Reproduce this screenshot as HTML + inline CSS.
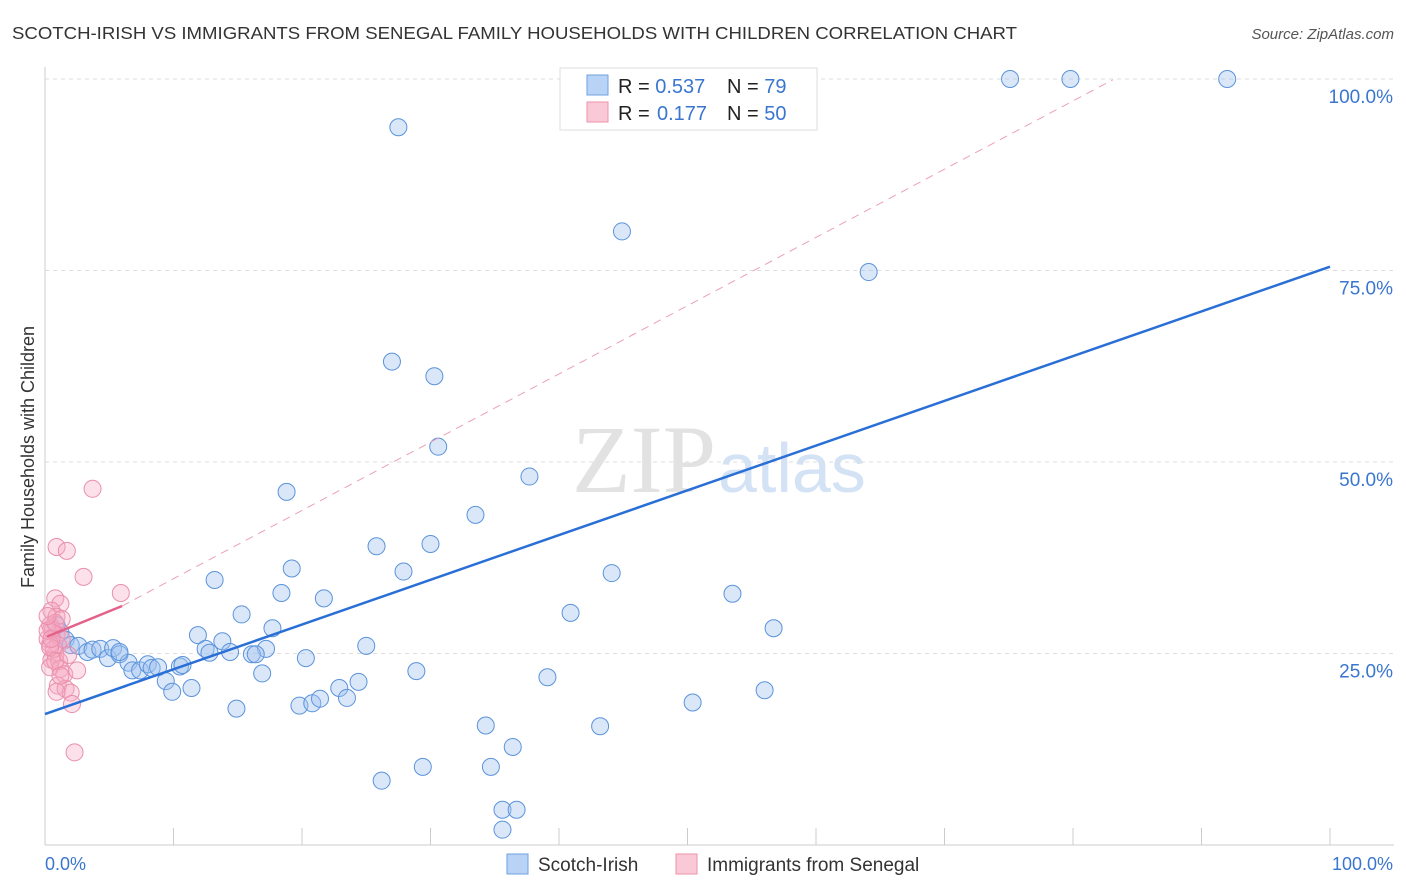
<!DOCTYPE html>
<html><head><meta charset="utf-8"><style>
body{margin:0;background:#fff;font-family:"Liberation Sans",sans-serif;}
#wrap{position:relative;width:1406px;height:892px;overflow:hidden;}
</style></head><body>
<div id="wrap">
<svg id="svg" width="1406" height="892" xmlns="http://www.w3.org/2000/svg">
<text x="12" y="39" font-size="17.5" fill="#333" textLength="1005" lengthAdjust="spacingAndGlyphs">SCOTCH-IRISH VS IMMIGRANTS FROM SENEGAL FAMILY HOUSEHOLDS WITH CHILDREN CORRELATION CHART</text>
<text x="1394" y="39" font-size="15" fill="#555" font-style="italic" text-anchor="end">Source: ZipAtlas.com</text>
<text x="0" y="0" transform="translate(34,457) rotate(-90)" font-size="18" fill="#333" text-anchor="middle">Family Households with Children</text>
<text x="716" y="492" font-size="96" fill="#e2e2e2" font-family="Liberation Serif, serif" text-anchor="end">ZIP</text>
<text x="718" y="492" font-size="70" fill="#d3e2f4">atlas</text>
<g id="grid"></g><g id="marks"></g>
<g>
<rect x="560" y="68" width="257" height="62" fill="#fff" stroke="#ddd"/>
<rect x="587" y="75" width="21" height="20" fill="#b8d3f5" stroke="#6fa1e0"/>
<rect x="587" y="102" width="21" height="20" fill="#fac9d8" stroke="#ee92ad"/>
<text x="618" y="93" font-size="20" fill="#222">R = <tspan fill="#3a76d0">0.537</tspan><tspan x="727">N = </tspan><tspan fill="#3a76d0">79</tspan></text>
<text x="618" y="120" font-size="20" fill="#222">R = <tspan fill="#3a76d0" x="657">0.177</tspan><tspan x="727">N = </tspan><tspan fill="#3a76d0">50</tspan></text>
</g>
<g>
<rect x="507" y="854" width="21" height="20" fill="#b8d3f5" stroke="#6fa1e0"/>
<text x="538" y="871" font-size="19" fill="#333">Scotch-Irish</text>
<rect x="676" y="854" width="21" height="20" fill="#fac9d8" stroke="#ee92ad"/>
<text x="707" y="871" font-size="19" fill="#333">Immigrants from Senegal</text>
</g>
<text x="45" y="870" font-size="18" fill="#3a76d0">0.0%</text>
<text x="1393" y="870" font-size="18" fill="#3a76d0" text-anchor="end">100.0%</text>
</svg></div>
<script>
const blueX=[75.1,79.8,92,27.5,44.9,64.1,27,30.3,30.6,37.7,18.8,33.5,25.8,30,19.2,27.9,13.2,44.1,18.4,53.5,21.7,15.3,40.9,17.7,56.7,11.9,13.8,12.5,17.2,25,14.4,16.1,16.4,12.8,20.3,0.9,1.2,1.6,2,2.6,3.3,3.7,4.3,4.9,5.3,5.8,6.5,6.8,7.4,8,8.3,8.8,9.4,9.9,10.5,10.7,11.4,16.9,22.9,24.4,28.9,39.1,56,14.9,19.8,20.8,21.4,23.5,34.3,43.2,50.4,36.4,34.7,26.2,29.4,35.6,36.7,35.6,5.8];
const blueY=[100,100,100,93.7,80.1,74.8,63.1,61.2,52,48.1,46.1,43.1,39,39.3,36.1,35.7,34.6,35.5,32.9,32.8,32.2,30.1,30.3,28.3,28.3,27.4,26.6,25.6,25.6,26,25.2,24.9,24.9,25.1,24.4,28.7,27.8,26.8,26.1,26,25.2,25.5,25.6,24.4,25.7,24.9,23.8,22.8,22.8,23.6,23.1,23.2,21.4,20,23.3,23.5,20.5,22.4,20.5,21.3,22.7,21.9,20.2,17.8,18.2,18.5,19.1,19.2,15.6,15.5,18.6,12.8,10.2,8.4,10.2,4.6,4.6,2,25.2];
const pinkX=[3.7,0.9,1.7,3,5.9,0.8,1.2,0.5,0.9,0.4,0.6,0.2,0.9,1.3,1,0.8,0.5,1.1,0.4,1.2,1.5,2.5,1,1.6,2,0.9,2.1,2.3,0.5,0.4,0.7,0.2,0.8,1.3,0.4,0.8,1.2,1.8,0.2,0.5];
const pinkY=[46.5,38.9,38.4,35,32.9,32.2,31.5,30.6,29.8,28.7,28,26.9,27.4,26.9,26.1,24.9,24.2,24,23.2,23,22.3,22.8,20.8,20.4,19.9,20,18.4,12.1,28.2,26.2,25.6,28,29,29.5,25.8,24,22.1,24.8,29.9,26.9];
const yTicks=[25,50,75,100];
const xTicks=[0,10,20,30,40,50,60,70,80,90,100];
const blueTrend=[[0,17.1],[100,75.5]];
const pinkSolid=[[0.15,27.2],[6.0,31.2]];
const pinkDash=[[6.0,31.2],[83.1,99.9]];
const sx=v=>45+v*12.85, sy=v=>845-v*7.66;
const NS='http://www.w3.org/2000/svg';
function mk(tag,attrs,parent){const e=document.createElementNS(NS,tag);for(const k in attrs)e.setAttribute(k,attrs[k]);parent.appendChild(e);return e;}
const grid=document.getElementById('grid'),marks=document.getElementById('marks');
mk('line',{x1:45,y1:67,x2:45,y2:845,stroke:'#ccc'},grid);
mk('line',{x1:45,y1:845,x2:1394,y2:845,stroke:'#ccc'},grid);
yTicks.forEach(t=>{
 const l=mk('line',{x1:45,y1:sy(t),x2:1394,y2:sy(t),stroke:'#ddd','stroke-dasharray':'4,4'},grid);
 
 
 const tx=mk('text',{x:1393,y:sy(t)+24,'font-size':19,fill:'#3a76d0','text-anchor':'end'},grid);
 tx.textContent=t.toFixed(1)+'%';
 
 
});
xTicks.forEach(t=>{
 const l=mk('line',{x1:sx(t),y1:828,x2:sx(t),y2:845,stroke:'#ccc'},grid);
 
 
});
blueX.forEach((x,i)=>{
 const c=mk('circle',{cx:sx(x),cy:sy(blueY[i]),r:8.5,fill:'rgba(160,196,240,0.4)',stroke:'#5b93db','stroke-width':1},marks);
 
 
});
pinkX.forEach((x,i)=>{
 const c=mk('circle',{cx:sx(x),cy:sy(pinkY[i]),r:8.5,fill:'rgba(245,170,195,0.35)',stroke:'#ea8fab','stroke-width':1},marks);
 
 
});
const bt=mk('line',{x1:sx(blueTrend[0][0]),y1:sy(blueTrend[0][1]),x2:sx(blueTrend[1][0]),y2:sy(blueTrend[1][1]),stroke:'#2a6fd6','stroke-width':2.5},marks);


const pd=mk('line',{x1:sx(pinkDash[0][0]),y1:sy(pinkDash[0][1]),x2:sx(pinkDash[1][0]),y2:sy(pinkDash[1][1]),stroke:'#eba0b6','stroke-width':1,'stroke-dasharray':'8,6'},marks);


const ps=mk('line',{x1:sx(pinkSolid[0][0]),y1:sy(pinkSolid[0][1]),x2:sx(pinkSolid[1][0]),y2:sy(pinkSolid[1][1]),stroke:'#e4628a','stroke-width':2.5},marks);


</script>
</body></html>
